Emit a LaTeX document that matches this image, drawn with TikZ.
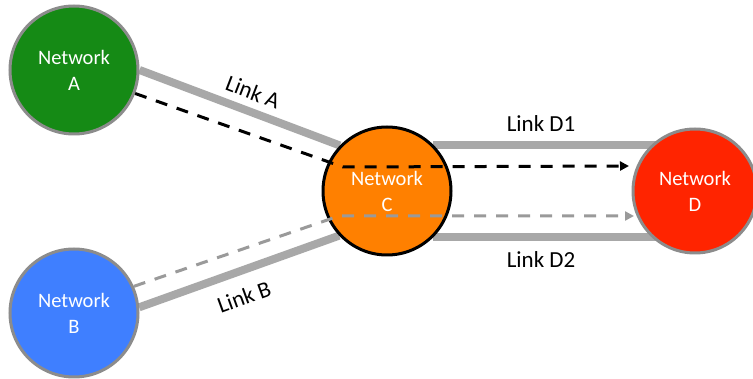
\documentclass[tikz,border=0pt]{standalone}
\usepackage{fontspec}
\setmainfont{Carlito}
\usetikzlibrary{arrows.meta,backgrounds}
\definecolor{netA}{HTML}{158A15}
\definecolor{netB}{HTML}{3F7FFF}
\definecolor{netC}{HTML}{FF8000}
\definecolor{netD}{HTML}{FF2400}
\definecolor{rimgray}{HTML}{8C8C8C}
\definecolor{linkgray}{HTML}{A8A8A8}
\definecolor{flowgray}{HTML}{9A9A9A}
\tikzset{
  netnode/.style={circle, minimum size=128pt, inner sep=0pt, line width=3pt,
    text=white, align=center, font=\fontsize{20.5}{26}\selectfont},
  linkline/.style={line width=8pt, draw=linkgray},
  flowline/.style={line width=3pt, dash pattern=on 12pt off 10pt,
    -{Triangle[length=9pt,width=9pt]}},
  linklabel/.style={font=\fontsize{23}{26}\selectfont, text=black, inner sep=0pt}
}
\begin{document}
\begin{tikzpicture}[x=1pt,y=-1pt]
\useasboundingbox (0,0) rectangle (753,379);
\node[netnode, fill=netA, draw=rimgray] (A) at (74,70) {Network\\A};
\node[netnode, fill=netB, draw=rimgray] (B) at (74,313) {Network\\B};
\node[netnode, fill=netC, draw=black] (C) at (387,191) {Network\\C};
\node[netnode, fill=netD, draw=rimgray, minimum size=124pt] (D) at (695,191) {Network\\D};
\begin{pgfonlayer}{background}
\fill[white] (0,0) rectangle (753,379);
\draw[linkline] (A.0) -- (C.136);
\draw[linkline] (B.5) -- (C.223);
\draw[linkline] (C.45) -- (C.45 -| D.center);
\draw[linkline] (C.-45) -- (C.-45 -| D.center);
\end{pgfonlayer}
\coordinate (k1) at (343,167);
\coordinate (t1) at (629,166);
\coordinate (k2) at (339,216);
\coordinate (t2) at (634,216);
\draw[flowline, draw=black] (A.-21) -- (k1) -- (t1);
\draw[flowline, draw=flowgray] (B.24) -- (k2) -- (t2);
\node[linklabel, rotate=-21] (la) at (253,92) {Link A};
\node[linklabel, rotate=20] (lb) at (244,297) {Link B};
\node[linklabel] (ld1) at (541,124) {Link D1};
\node[linklabel] (ld2) at (541,260) {Link D2};
\end{tikzpicture}
\end{document}
